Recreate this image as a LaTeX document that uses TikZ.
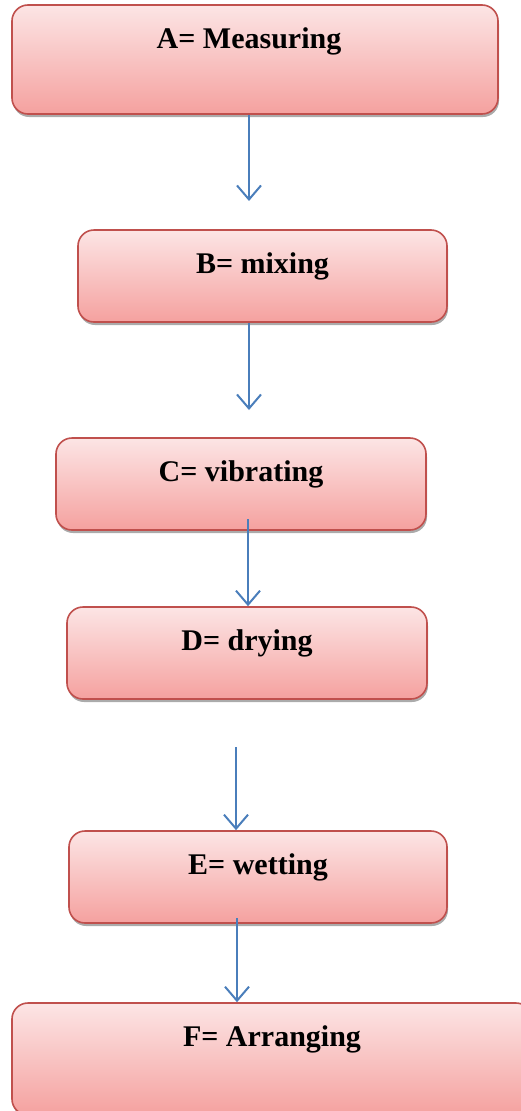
\documentclass[tikz,border=0pt]{standalone}
\usepackage{fontspec}
\setmainfont{Liberation Serif}
\usetikzlibrary{arrows.meta,shadows}
\definecolor{boxedge}{HTML}{C0504D}
\definecolor{boxtop}{HTML}{FCE5E5}
\definecolor{boxbot}{HTML}{F5A19F}
\definecolor{flow}{HTML}{4A7EBB}
\begin{document}
\begin{tikzpicture}[x=1pt,y=-1pt,
  stage/.style={draw=boxedge, line width=1.6pt, rounded corners=16pt,
    top color=boxtop, bottom color=boxbot, inner sep=0pt,
    drop shadow={shadow xshift=1pt, shadow yshift=-3pt, opacity=0.6, fill=black!55}},
  caption/.style={font=\bfseries\fontsize{30}{36}\selectfont, inner sep=0pt, anchor=base},
  flowarrow/.style={draw=flow, line width=2pt,
    -{Straight Barb[length=14pt,width=24pt,line width=2pt]}}]
\useasboundingbox (0,0) rectangle (521,1111);
\clip (0,0) rectangle (521,1111);

% process stages
\node[stage, minimum width=486pt, minimum height=109pt] (A) at (255,59.5) {};
\node[stage, minimum width=369pt, minimum height=92pt] (B) at (262.5,276) {};
\node[stage, minimum width=370pt, minimum height=92pt] (C) at (241,484) {};
\node[stage, minimum width=360pt, minimum height=92pt] (D) at (247,653) {};
\node[stage, minimum width=378pt, minimum height=92pt] (E) at (258,877) {};
\node[stage, minimum width=520pt, minimum height=112pt] (F) at (272,1059) {};

% stage labels
\node[caption] (tA) at ([xshift=-6pt,yshift=-44pt]A.north) {A= Measuring};
\node[caption] (tB) at ([yshift=-44pt]B.north) {B= mixing};
\node[caption] (tC) at ([yshift=-44pt]C.north) {C= vibrating};
\node[caption] (tD) at ([yshift=-44pt]D.north) {D= drying};
\node[caption] (tE) at ([yshift=-44pt]E.north) {E= wetting};
\node[caption] (tF) at ([yshift=-44pt]F.north) {F= Arranging};

% arrow ends
\coordinate (ab) at (249,201);
\coordinate (bc) at (249,410);
\coordinate (cd) at (248,519);
\coordinate (de) at (236,747);
\coordinate (ef) at (237,918);

% flow arrows
\draw[flowarrow] (A.south -| ab) -- (ab);
\draw[flowarrow] (B.south -| bc) -- (bc);
\draw[flowarrow] (cd) -- (D.north -| cd);
\draw[flowarrow] (de) -- (E.north -| de);
\draw[flowarrow] (ef) -- (F.north -| ef);
\end{tikzpicture}
\end{document}
